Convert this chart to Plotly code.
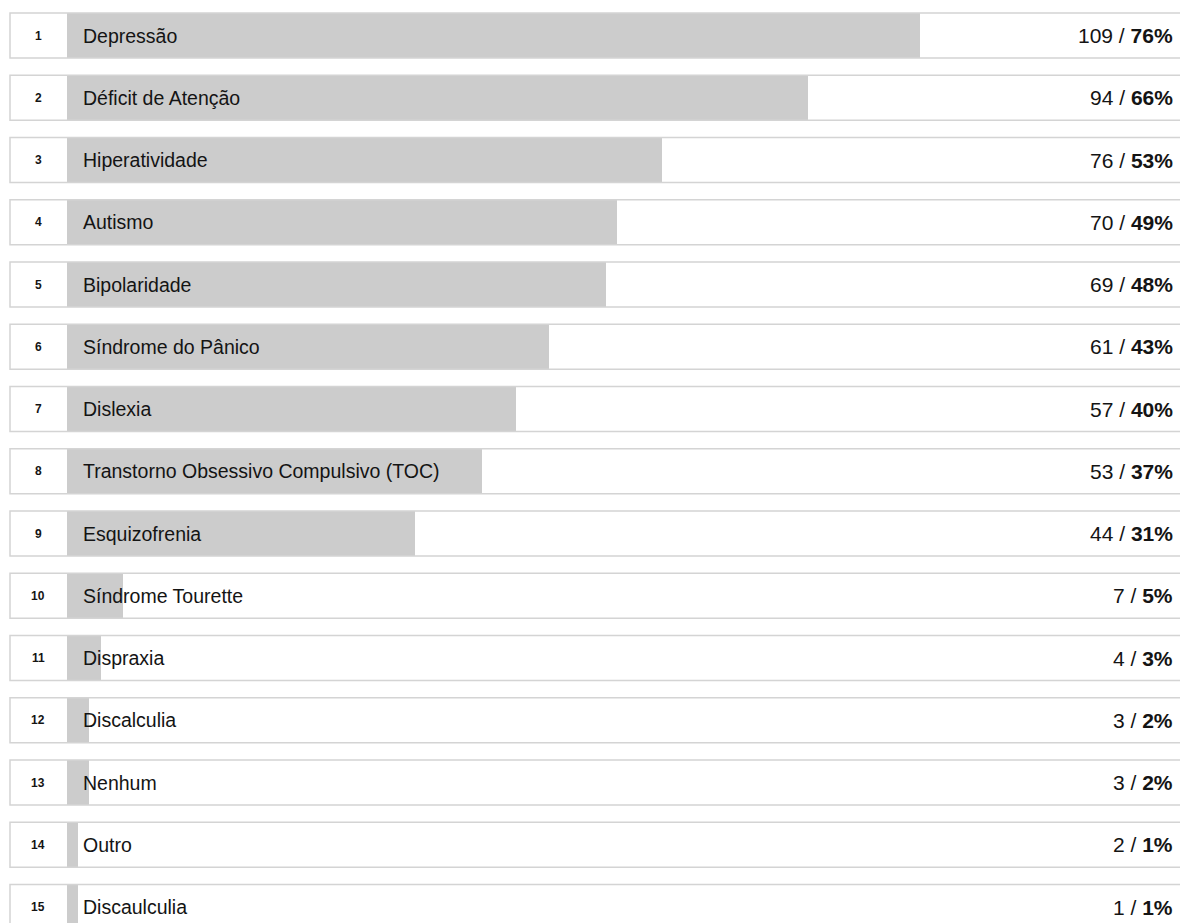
import plotly.graph_objects as go

ranks = list(range(1, 16))
labels = ["Depressão", "Déficit de Atenção", "Hiperatividade", "Autismo", "Bipolaridade",
          "Síndrome do Pânico", "Dislexia", "Transtorno Obsessivo Compulsivo (TOC)",
          "Esquizofrenia", "Síndrome Tourette", "Dispraxia", "Discalculia", "Nenhum",
          "Outro", "Discaulculia"]
counts = [109, 94, 76, 70, 69, 61, 57, 53, 44, 7, 4, 3, 3, 2, 1]
percents = [76, 66, 53, 49, 48, 43, 40, 37, 31, 5, 3, 2, 2, 1, 1]

W, H = 1180, 923
L = 67                       # left of bar area (px)
PLOT_W = W - L
PX_PER_PCT = 11.22
PITCH = 62.25
ROW1_CENTER = 35.5
BOX_H = 45

xr = [0, PLOT_W / PX_PER_PCT]
ytop = -ROW1_CENTER / PITCH
ybot = ytop + H / PITCH
half = BOX_H / PITCH / 2

FONT = "Liberation Sans, Arial, sans-serif"
TXT = "#141414"

ypos = list(range(len(labels)))

fig = go.Figure()
fig.add_trace(go.Bar(
    x=percents, y=ypos, orientation="h", width=BOX_H / PITCH,
    marker=dict(color="#cccccc", line=dict(width=0)),
    hoverinfo="skip", showlegend=False,
))

shapes = []
annotations = []
for i, (r, lab, c, p) in enumerate(zip(ranks, labels, counts, percents)):
    shapes.append(dict(
        type="rect", xref="paper", yref="y",
        x0=(10 - L) / PLOT_W, x1=(1192 - L) / PLOT_W,
        y0=i - half, y1=i + half,
        line=dict(color="#d4d4d4", width=1.5), fillcolor="rgba(0,0,0,0)",
        layer="above",
    ))
    annotations.append(dict(
        xref="paper", yref="y", x=(38 - L) / PLOT_W, y=i, text=f"<b>{r}</b>",
        showarrow=False, xanchor="center", yanchor="middle",
        font=dict(family=FONT, size=12, color=TXT),
    ))
    annotations.append(dict(
        xref="x", yref="y", x=0, y=i, xshift=14, text=lab,
        showarrow=False, xanchor="left", yanchor="middle",
        font=dict(family=FONT, size=19.5, color=TXT),
    ))
    annotations.append(dict(
        xref="paper", yref="y", x=(1175 - L) / PLOT_W, y=i,
        text=f"{c} / <b>{p}%</b>",
        showarrow=False, xanchor="right", yanchor="middle",
        font=dict(family=FONT, size=21, color=TXT),
    ))

fig.update_layout(
    width=W, height=H,
    margin=dict(l=L, r=0, t=0, b=0),
    paper_bgcolor="white", plot_bgcolor="white",
    xaxis=dict(range=xr, visible=False, fixedrange=True),
    yaxis=dict(range=[ybot, ytop], visible=False, fixedrange=True),
    shapes=shapes, annotations=annotations,
    hovermode=False, bargap=0,
)

fig.write_html("out.html", config={"displayModeBar": False})
